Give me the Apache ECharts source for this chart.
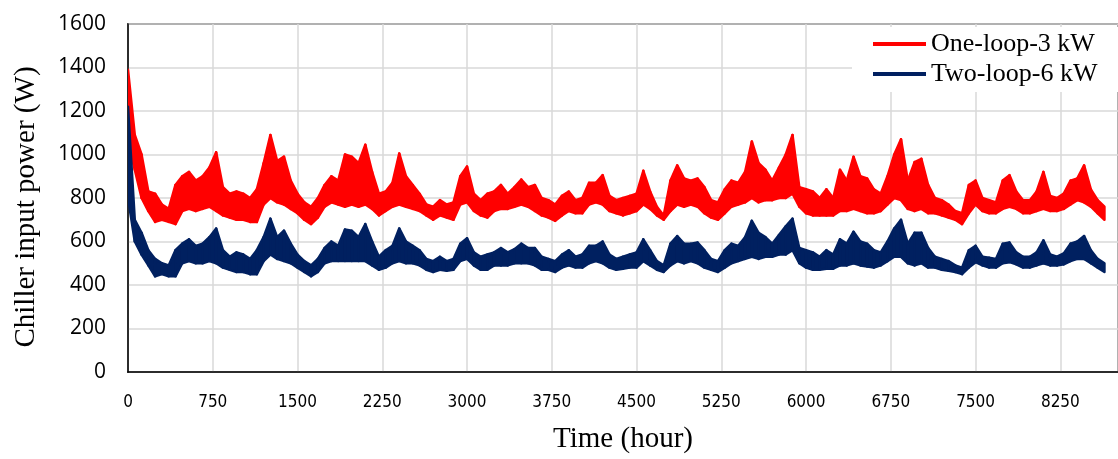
<!DOCTYPE html>
<html>
<head>
<meta charset="utf-8">
<script src="https://cdn.jsdelivr.net/npm/echarts@6/dist/echarts.min.js"></script>
<style>html,body{margin:0;padding:0;background:#fff;}#chart{width:1118px;height:459px;}</style>
</head>
<body>
<div id="chart"></div>
<script>
// Sample hours; at each sample the upper (daily peak) and lower (daily trough) envelope is read
const hours = [
  0,60,120,180,240,300,360,420,480,540,
  600,660,720,780,840,900,960,1020,1080,1140,
  1200,1260,1320,1380,1440,1500,1560,1620,1680,1740,
  1800,1860,1920,1980,2040,2100,2160,2220,2280,2340,
  2400,2460,2520,2580,2640,2700,2760,2820,2880,2940,
  3000,3060,3120,3180,3240,3300,3360,3420,3480,3540,
  3600,3660,3720,3780,3840,3900,3960,4020,4080,4140,
  4200,4260,4320,4380,4440,4500,4560,4620,4680,4740,
  4800,4860,4920,4980,5040,5100,5160,5220,5280,5340,
  5400,5460,5520,5580,5640,5700,5760,5820,5880,5940,
  6000,6060,6120,6180,6240,6300,6360,6420,6480,6540,
  6600,6660,6720,6780,6840,6900,6960,7020,7080,7140,
  7200,7260,7320,7380,7440,7500,7560,7620,7680,7740,
  7800,7860,7920,7980,8040,8100,8160,8220,8280,8340,
  8400,8460,8520,8580,8640
];

// One-loop-3 kW (W)
const oneLoopHigh = [
  1390,1090,1000,830,820,770,750,860,900,920,
  880,900,940,1010,850,820,830,820,800,840,
  960,1090,970,990,880,820,780,760,800,860,
  900,880,1000,990,960,1045,920,820,830,870,
  1005,900,860,820,770,760,790,770,780,900,
  945,820,790,820,830,860,820,850,885,850,
  860,800,790,770,810,830,790,800,870,870,
  905,810,790,800,810,820,925,830,760,720,
  880,950,890,880,890,850,790,780,840,880,
  870,920,1060,960,930,880,940,1000,1090,850,
  840,830,800,840,800,930,880,990,900,890,
  840,820,900,1000,1070,880,965,980,860,800,
  790,770,740,730,860,880,800,790,780,880,
  905,830,790,790,830,920,810,800,820,880,
  890,950,840,790,760
];
const oneLoopLow = [
  1050,930,800,740,690,700,690,680,740,750,
  740,750,760,740,720,710,700,700,690,690,
  770,800,780,770,750,730,700,680,710,760,
  780,770,760,770,760,770,750,720,740,760,
  770,760,750,740,720,700,720,710,700,770,
  780,740,720,710,740,750,750,760,770,760,
  740,720,710,695,720,740,730,730,770,780,
  770,740,730,720,730,740,770,750,720,700,
  740,770,760,770,760,730,710,700,730,760,
  770,780,800,780,790,790,800,800,820,760,
  730,720,720,720,720,740,740,750,740,730,
  730,740,770,800,790,750,740,750,730,730,
  720,710,700,680,730,770,740,730,730,750,
  760,750,730,730,740,750,740,740,750,770,
  790,780,760,730,700
];

// Two-loop-6 kW (W)
const twoLoopHigh = [
  1220,700,640,560,520,500,490,560,590,610,
  580,590,620,660,560,530,550,540,520,560,
  620,705,620,650,590,540,510,490,520,570,
  600,580,655,650,620,680,600,530,560,580,
  660,600,580,560,520,510,530,510,520,590,
  615,550,530,540,550,570,550,565,590,570,
  570,530,520,510,540,560,530,540,580,580,
  600,540,520,530,540,550,610,560,510,490,
  590,625,590,590,595,560,520,510,560,590,
  580,620,695,640,620,590,630,670,705,570,
  560,550,530,560,540,610,590,645,600,590,
  560,550,600,660,700,590,640,640,570,530,
  520,510,490,480,560,580,530,525,520,590,
  595,550,530,530,550,605,540,530,545,590,
  600,625,560,520,500
];
const twoLoopLow = [
  800,600,540,490,440,450,440,440,500,510,
  500,500,510,500,480,470,460,460,450,450,
  510,540,520,510,500,480,460,440,460,500,
  510,510,510,510,510,510,490,470,480,500,
  510,500,500,490,470,460,470,465,470,510,
  520,490,470,470,490,490,490,500,500,500,
  490,470,470,460,480,490,480,480,500,510,
  500,480,470,475,480,480,510,490,470,460,
  490,510,500,510,500,480,470,460,480,500,
  510,520,530,520,530,530,540,540,560,500,
  480,470,470,475,475,490,490,500,490,485,
  480,490,510,530,530,500,490,500,480,480,
  470,465,460,450,480,505,490,480,480,500,
  505,495,480,480,490,500,490,490,495,510,
  520,520,500,480,460
];

const seriesNames = ['One-loop-3 kW', 'Two-loop-6 kW'];
const seriesColors = ['#ff0000', '#002060'];
const xTickInterval = 750;
const yTicks = [0, 200, 400, 600, 800, 1000, 1200, 1400, 1600];

function bandSeries(name, color, hi, lo) {
  const rows = hours.map((h, i) => [h, hi[i], lo[i]]);
  return {
    name: name,
    type: 'custom',
    clip: true,
    itemStyle: {color: color},
    encode: {x: 0, y: [1, 2]},
    data: rows,
    renderItem: function (params, api) {
      const i = params.dataIndex;
      if (i >= rows.length - 1) return null;
      const a = rows[i], b = rows[i + 1];
      const pts = [
        api.coord([a[0], a[1]]),
        api.coord([b[0], b[1]]),
        api.coord([b[0], b[2]]),
        api.coord([a[0], a[2]])
      ];
      return {
        type: 'polygon',
        shape: {points: pts},
        style: {fill: color, stroke: color, lineWidth: 2.5, lineJoin: 'round'}
      };
    },
    z: 3
  };
}

const chart = echarts.init(document.getElementById('chart'), null, {renderer: 'canvas'});
const serif = "'Liberation Serif', 'Times New Roman', serif";
chart.setOption({
  animation: false,
  backgroundColor: '#ffffff',
  grid: {
    left: 128, top: 24, width: 1003, height: 348,
    show: true, borderColor: '#000', borderWidth: 1.5, backgroundColor: 'transparent'
  },
  legend: {
    data: seriesNames.map((n, k) => ({name: n, itemStyle: {color: seriesColors[k]}})),
    orient: 'vertical',
    left: 852, top: 27,
    padding: [3, 40, 4, 21],
    backgroundColor: '#ffffff',
    icon: 'rect',
    itemWidth: 53, itemHeight: 4,
    itemGap: 2,
    textStyle: {fontFamily: serif, fontSize: 26, color: '#000', lineHeight: 28}
  },
  xAxis: {
    type: 'value',
    min: 0, max: 8760, interval: xTickInterval,
    name: 'Time (hour)', nameLocation: 'middle', nameGap: 53,
    nameTextStyle: {fontFamily: serif, fontSize: 29, color: '#000'},
    axisLine: {show: true, lineStyle: {color: '#000', width: 1.5}},
    axisTick: {show: false},
    axisLabel: {
      showMaxLabel: false, margin: 22,
      formatter: v => String(v),
      fontFamily: "'Liberation Sans Narrow', 'DejaVu Sans Condensed', sans-serif",
      fontSize: 17, color: '#000'
    },
    splitLine: {show: true, lineStyle: {color: '#d9d9d9', width: 1.5}}
  },
  yAxis: {
    type: 'value',
    min: yTicks[0], max: yTicks[yTicks.length - 1], interval: 200,
    name: 'Chiller input power (W)', nameLocation: 'middle', nameGap: 87,
    nameTextStyle: {fontFamily: serif, fontSize: 29, color: '#000', padding: [0, 18, 0, 0]},
    axisLine: {show: true, lineStyle: {color: '#000', width: 1.5}},
    axisTick: {show: false},
    axisLabel: {margin: 22, formatter: v => String(v), fontFamily: "'Open Sans', 'Liberation Sans', sans-serif", fontSize: 21, color: '#000'},
    splitLine: {show: true, lineStyle: {color: '#d9d9d9', width: 1.5}}
  },
  series: [
    bandSeries(seriesNames[0], seriesColors[0], oneLoopHigh, oneLoopLow),
    bandSeries(seriesNames[1], seriesColors[1], twoLoopHigh, twoLoopLow)
  ]
});
</script>
</body>
</html>
